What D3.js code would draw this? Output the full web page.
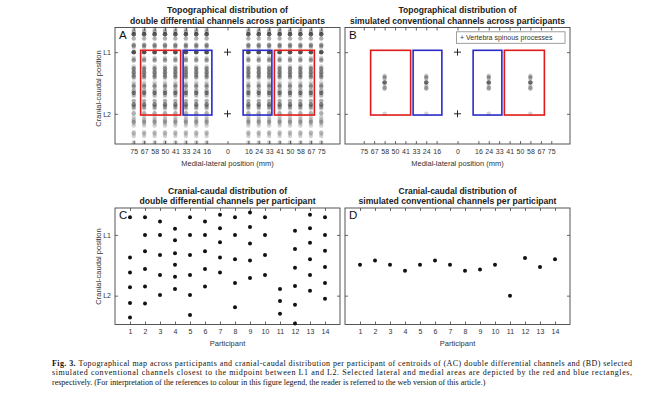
<!DOCTYPE html>
<html>
<head>
<meta charset="utf-8">
<script src="https://cdn.jsdelivr.net/npm/d3@7"></script>
<style>
  body { margin: 0; background: #fff; }
  svg { font-family: "Liberation Sans", Arial, sans-serif; }
  .axis text { font-size: 7px; fill: #333; }
  .axis line { stroke: #444; stroke-width: 0.8; }
  .axis path { display: none; }
</style>
</head>
<body>
<svg id="fig" width="650" height="398"></svg>
<script>
// medial-lateral electrode columns (mm from the midline) and the printed labels
const mlColumns = [16.7, 25, 33.3, 41.7, 50, 58.3, 66.7, 75];
const mlLabels = ["16", "24", "33", "41", "50", "58", "67", "75"];
// columns kept for the simulated conventional channels
const simColumns = [25, 58.3];

const levels = [1, 2];
const levelLabels = ["L1", "L2"];
const participants = [1, 2, 3, 4, 5, 6, 7, 8, 9, 10, 11, 12, 13, 14];

// cranial-caudal centroids, in vertebra units (L1 = 1, L2 = 2)
const ddCentroids = [
    [0.71, 1.37, 1.62, 1.86, 2.12, 2.36],
    [0.71, 1.00, 1.27, 1.56, 1.85, 2.13],
    [0.78, 1.00, 1.33, 1.66, 1.99],
    [0.90, 1.09, 1.30, 1.49, 1.69, 1.89],
    [0.71, 1.00, 1.33, 1.66, 1.99, 2.32],
    [0.78, 1.00, 1.27, 1.56, 1.85],
    [0.67, 0.89, 1.12, 1.37, 1.62],
    [0.71, 1.00, 1.40, 1.79, 2.19],
    [0.63, 0.87, 1.14, 1.42, 1.71],
    [0.71, 1.00, 1.33, 1.66],
    [1.89, 2.09, 2.30],
    [0.93, 1.23, 1.54, 1.84, 2.15, 2.46],
    [0.67, 0.89, 1.13, 1.40, 1.66, 1.92],
    [0.71, 1.00, 1.26, 1.53, 1.79, 2.05]
];
const simCentroids = [1.49, 1.42, 1.49, 1.59, 1.49, 1.42, 1.49, 1.59, 1.57, 1.49, 2.00, 1.38, 1.53, 1.40];

// selected areas (mm from midline) and their cranial-caudal extent
const lateralArea = [37.5, 69.5];
const medialArea = [12.5, 35.5];
const areaLevels = [0.97, 2.02];

const titles = [
    ["Topographical distribution of", "double differential channels across participants"],
    ["Topographical distribution of", "simulated conventional channels across participants"],
    ["Cranial-caudal distribution of", "double differential channels per participant"],
    ["Cranial-caudal distribution of", "simulated conventional channels per participant"]
];
// printed width of each title line in the figure
const titleWidths = [[121, 195], [118, 215], [119, 176], [118, 198]];

const caption = [
    "Topographical map across participants and cranial-caudal distribution per participant of centroids of (AC) double differential channels and (BD) selected",
    "simulated conventional channels closest to the midpoint between L1 and L2. Selected lateral and medial areas are depicted by the red and blue rectangles,",
    "respectively. (For interpretation of the references to colour in this figure legend, the reader is referred to the web version of this article.)"
];

const width = 225, height = 116.5;
const svg = d3.select("#fig");

const mlTicks = mlColumns.slice().reverse().map(d => -d).concat([0], mlColumns);
const mlTickLabel = d => d === 0 ? "0" : mlLabels[mlColumns.indexOf(Math.abs(d))];
const bothSides = cols => cols.map(d => -d).concat(cols);

const x = d3.scaleLinear().domain([-90, 90]).range([0, width]);
const xp = d3.scaleLinear().domain([0, 15]).range([0, width]);
const yTop = d3.scaleLinear().domain([0.6, 2.49]).range([0, height]);
const yBottom = d3.scaleLinear().domain([0.557, 2.475]).range([0, height]);

function panel(px, py, k, xs, ys, xTicks, xFormat, xTitle, showY) {
    let g = svg.append("g").attr("transform", `translate(${px},${py})`);

    g.append("g").attr("class", "axis")
        .attr("transform", `translate(0,${height})`)
        .call(d3.axisBottom(xs).tickValues(xTicks).tickFormat(xFormat).tickSizeInner(-3).tickSizeOuter(0).tickPadding(5));
    g.append("g").attr("class", "axis")
        .call(d3.axisTop(xs).tickValues(xTicks).tickFormat("").tickSizeInner(-3).tickSizeOuter(0));
    g.append("g").attr("class", "axis")
        .call(d3.axisLeft(ys).tickValues(levels).tickFormat((d, i) => showY ? levelLabels[i] : "").tickSizeInner(-3).tickSizeOuter(0).tickPadding(4));
    g.append("g").attr("class", "axis")
        .attr("transform", `translate(${width},0)`)
        .call(d3.axisRight(ys).tickValues(levels).tickFormat("").tickSizeInner(-3).tickSizeOuter(0));

    g.append("rect")
        .attr("width", width)
        .attr("height", height)
        .attr("fill", "none")
        .attr("stroke", "#444")
        .attr("stroke-width", 0.9);

    g.append("text")
        .attr("x", 4)
        .attr("y", 11)
        .attr("font-size", 11.5)
        .attr("fill", "#111")
        .text("ABCD"[k]);

    g.selectAll("text.title")
        .data(titles[k])
        .enter()
        .append("text")
        .classed("title", true)
        .attr("x", width / 2)
        .attr("y", (d, i) => -14.5 + i * 10.5)
        .attr("text-anchor", "middle")
        .attr("font-size", 8.5)
        .attr("font-weight", "bold")
        .attr("fill", "#222")
        .attr("textLength", (d, i) => titleWidths[k][i])
        .attr("lengthAdjust", "spacingAndGlyphs")
        .text(d => d);

    g.append("text")
        .attr("x", width / 2)
        .attr("y", height + 21.7)
        .attr("text-anchor", "middle")
        .attr("font-size", 7.5)
        .attr("fill", "#333")
        .text(xTitle);

    return g;
}

function yLabel(py) {
    svg.append("text")
        .attr("transform", `translate(101,${py}) rotate(-90)`)
        .attr("text-anchor", "middle")
        .attr("font-size", 7.5)
        .attr("fill", "#333")
        .text("Cranial-caudal position");
}

function areas(g, ys) {
    [[lateralArea, "#e01a1a"], [medialArea, "#2a2ac8"]].forEach(([a, col]) => {
        [1, -1].forEach(s => {
            let x0 = x(s * a[0]), x1 = x(s * a[1]);
            g.append("rect")
                .attr("x", Math.min(x0, x1))
                .attr("y", ys(areaLevels[0]))
                .attr("width", Math.abs(x1 - x0))
                .attr("height", ys(areaLevels[1]) - ys(areaLevels[0]))
                .attr("fill", "none")
                .attr("stroke", col)
                .attr("stroke-width", 1.6);
        });
    });
    g.selectAll("path.spine")
        .data(levels)
        .enter()
        .append("path")
        .classed("spine", true)
        .attr("transform", d => `translate(${x(0)},${ys(d)})`)
        .attr("d", "M-3.5,0H3.5M0,-3.5V3.5")
        .attr("stroke", "#111")
        .attr("stroke-width", 0.9);
}

// A: every double differential centroid, drawn on every column
let gA = panel(115, 27.5, 0, x, yTop, mlTicks, mlTickLabel, "Medial-lateral position (mm)", true);
let ddPoints = [];
bothSides(mlColumns).forEach(c => ddCentroids.forEach(list => list.forEach(v => ddPoints.push([c, v]))));
gA.append("g")
    .selectAll("circle")
    .data(ddPoints)
    .enter()
    .append("circle")
    .attr("cx", d => x(d[0]))
    .attr("cy", d => yTop(d[1]))
    .attr("r", 2.2)
    .attr("fill", "#222")
    .attr("fill-opacity", 0.2);
areas(gA, yTop);

// B: simulated conventional channels
let gB = panel(345, 27.5, 1, x, yTop, mlTicks, mlTickLabel, "Medial-lateral position (mm)", false);
let simPoints = [];
bothSides(simColumns).forEach(c => simCentroids.forEach(v => simPoints.push([c, v])));
gB.append("g")
    .selectAll("circle")
    .data(simPoints)
    .enter()
    .append("circle")
    .attr("cx", d => x(d[0]))
    .attr("cy", d => yTop(d[1]))
    .attr("r", 2.2)
    .attr("fill", "#222")
    .attr("fill-opacity", 0.2);
areas(gB, yTop);

let legend = gB.append("g").attr("transform", "translate(111.5,4.3)");
legend.append("rect")
    .attr("width", 108.5)
    .attr("height", 11.5)
    .attr("fill", "#fff")
    .attr("stroke", "#888")
    .attr("stroke-width", 0.8);
legend.append("text")
    .attr("x", 3.5)
    .attr("y", 8.3)
    .attr("font-size", 7)
    .attr("fill", "#333")
    .text("+ Vertebra spinous processes");

// C: centroids per participant
let gC = panel(115, 208, 2, xp, yBottom, participants, d => d, "Participant", true);
let perPart = [];
ddCentroids.forEach((list, i) => list.forEach(v => perPart.push([participants[i], v])));
gC.selectAll("circle")
    .data(perPart)
    .enter()
    .append("circle")
    .attr("cx", d => xp(d[0]))
    .attr("cy", d => yBottom(d[1]))
    .attr("r", 2)
    .attr("fill", "#111");

// D
let gD = panel(345, 208, 3, xp, yBottom, participants, d => d, "Participant", false);
gD.selectAll("circle")
    .data(simCentroids)
    .enter()
    .append("circle")
    .attr("cx", (d, i) => xp(participants[i]))
    .attr("cy", d => yBottom(d))
    .attr("r", 2)
    .attr("fill", "#111");

yLabel(88.5);
yLabel(266.5);

// caption, first two lines justified
let cap = svg.append("g")
    .attr("font-family", "'Liberation Serif', 'Times New Roman', serif")
    .attr("font-size", 8)
    .attr("fill", "#111");
caption.forEach((line, i) => {
    let t = cap.append("text")
        .attr("x", 52)
        .attr("y", 365.5 + i * 9.5);
    if (i < 2) t.attr("textLength", 580).attr("lengthAdjust", "spacing");
    if (i === 0) {
        t.append("tspan").attr("font-weight", "bold").text("Fig. 3. ");
    }
    t.append("tspan").text(line);
});
</script>
</body>
</html>
